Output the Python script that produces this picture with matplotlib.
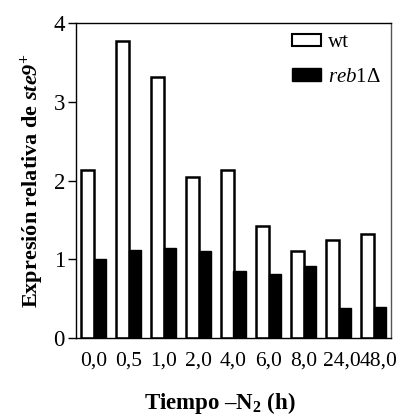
import matplotlib
matplotlib.use("Agg")
import matplotlib.pyplot as plt
import matplotlib.transforms as mtrans
import numpy as np
from matplotlib.patches import Patch

categories = ["0,0", "0,5", "1,0", "2,0", "4,0", "6,0", "8,0", "24,0", "48,0"]
wt = [2.14, 3.77, 3.32, 2.05, 2.13, 1.42, 1.10, 1.25, 1.32]
reb1 = [1.00, 1.12, 1.14, 1.11, 0.85, 0.81, 0.92, 0.38, 0.39]
yticks = [0, 1, 2, 3, 4]

plt.rcParams['font.family'] = 'Liberation Serif'
plt.rcParams['mathtext.fontset'] = 'custom'
plt.rcParams['mathtext.rm'] = 'Liberation Serif'
plt.rcParams['mathtext.it'] = 'Liberation Serif:italic'
plt.rcParams['mathtext.bf'] = 'Liberation Serif:bold'
plt.rcParams['mathtext.bfit'] = 'Liberation Serif:bold:italic'

fig = plt.figure(figsize=(4.0, 4.19), dpi=100)
ax = fig.add_axes([0.19, 0.193, 0.7875, 0.752])

x = np.arange(len(categories))
w = 0.37
ax.bar(x - w/2, wt, width=w, color='white', edgecolor='black', linewidth=1.8, label='wt')
ax.bar(x + w/2, reb1, width=w, color='black', edgecolor='black', linewidth=1.0,
       label=r'$\mathit{reb1}\Delta$')

ax.set_xlim(-0.5, len(categories) - 0.5)
ax.set_ylim(0, 4)
ax.set_yticks(yticks)
ax.set_yticklabels([str(t) for t in yticks], fontsize=16.5)
ax.set_xticks(x)
ax.set_xticklabels(categories, fontsize=15.5)
ax.tick_params(axis='x', length=0, pad=10)
ax.tick_params(axis='y', direction='out', length=6, width=1, pad=2)

# nudge the last crowded labels right, as in the original
shifts = {7: 3.0, 8: 5.0}
for i, lab in enumerate(ax.get_xticklabels()):
    if i in shifts:
        lab.set_transform(lab.get_transform() +
                          mtrans.ScaledTranslation(shifts[i] / 100, 0, fig.dpi_scale_trans))

for s in ['left', 'bottom', 'top']:
    ax.spines[s].set_linewidth(1.0)
    ax.spines[s].set_color('black')
ax.spines['right'].set_linewidth(1.0)
ax.spines['right'].set_color('#555555')

ax.set_ylabel(r'Expresión relativa de $\mathbfit{ste9}^{\mathbf{+}}$',
              fontsize=16, fontweight='bold', labelpad=5)
ax.set_xlabel(r'$\mathbf{Tiempo\ –N_2\ (h)}$', fontsize=16.5)
ax.xaxis.set_label_coords(0.455, -0.165)

handles = [Patch(facecolor='white', edgecolor='black', linewidth=1.5, label='wt'),
           Patch(facecolor='black', edgecolor='black', label=r'$\mathit{reb1}\Delta$')]
ax.legend(handles=handles, loc='upper right', frameon=False, fontsize=15,
          handlelength=1.4, handleheight=0.55, handletextpad=0.3, labelspacing=0.75,
          borderaxespad=0.2, borderpad=0.3)

fig.savefig("out.png", dpi=100)
